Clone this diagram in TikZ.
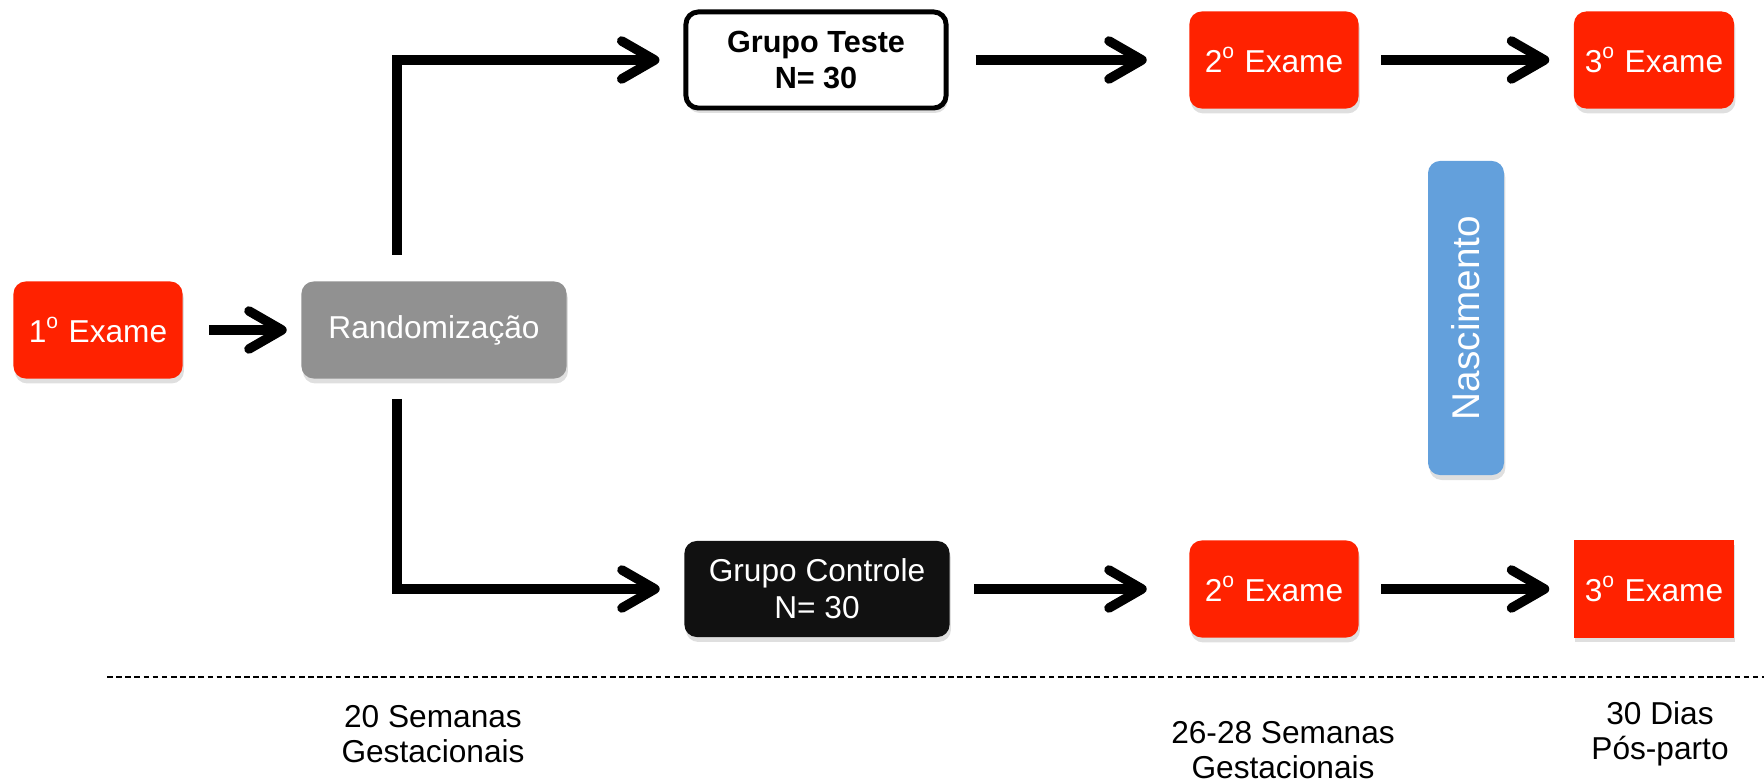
\documentclass[tikz,border=0pt]{standalone}
\usepackage{fontspec}
\setmainfont{Liberation Sans}
\usetikzlibrary{arrows.meta,shadows}

\definecolor{examered}{RGB}{255,34,0}
\definecolor{randgray}{RGB}{145,145,145}
\definecolor{nascblue}{RGB}{99,160,220}
\definecolor{ctrlblack}{RGB}{17,17,17}

\tikzset{
  box/.style={rounded corners=3.5pt, minimum height=0.97cm, inner sep=0pt, align=center,
    font=\fontsize{9}{10.5}\selectfont, text=white,
    drop shadow={opacity=0.25, shadow xshift=0.4pt, shadow yshift=-1.4pt}},
  exame/.style={box, fill=examered, minimum width=1.69cm},
  seta/.style={line width=2.7pt, -{Straight Barb[length=0.33cm, width=0.38cm, round]}},
  rotulo/.style={align=center, font=\fontsize{9}{10}\selectfont}
}

\begin{document}
\begin{tikzpicture}[x=0.01cm, y=-0.01cm]
    \useasboundingbox (0, 0) rectangle (1764, 783);

    \node[exame] (e1) at (98, 330) {1\textsuperscript{o} Exame};
    \node[box, fill=randgray, minimum width=2.65cm] (rand) at (434, 330) {Randomização};

    \node[box, fill=white, draw=black, line width=1.4pt, text=black, minimum width=2.60cm, minimum height=0.96cm,
          font=\fontsize{8.7}{10.5}\selectfont\bfseries] (gt) at (816, 60) {Grupo Teste\\N= 30};
    \node[box, fill=ctrlblack, minimum width=2.65cm, minimum height=0.96cm] (gc) at (817, 589) {Grupo Controle\\N= 30};

    \node[exame] (e2a) at (1274, 60) {2\textsuperscript{o} Exame};
    \node[exame, minimum width=1.60cm] (e3a) at (1654, 60) {3\textsuperscript{o} Exame};
    \node[exame] (e2b) at (1274, 589) {2\textsuperscript{o} Exame};
    \node[exame, minimum width=1.60cm, rounded corners=0pt] (e3b) at (1654, 589) {3\textsuperscript{o} Exame};

    \node[box, fill=nascblue, rotate=90, minimum width=3.14cm, minimum height=0.76cm,
          font=\fontsize{11}{13}\selectfont] (nasc) at (1466, 318) {Nascimento};

    \coordinate (brkup) at (397, 255);
    \coordinate (brkdn) at (397, 399);

    \draw[seta, shorten <=0.26cm, shorten >=0.14cm] (e1) -- (rand);
    \draw[seta, shorten >=0.24cm] (brkup) |- (gt.west);
    \draw[seta, shorten >=0.24cm] (brkdn) |- (gc.west);
    \draw[seta, shorten <=0.27cm, shorten >=0.42cm] (gt) -- (e2a);
    \draw[seta, shorten <=0.22cm, shorten >=0.24cm] (e2a) -- (e3a);
    \draw[seta, shorten <=0.24cm, shorten >=0.42cm] (gc) -- (e2b);
    \draw[seta, shorten <=0.22cm, shorten >=0.24cm] (e2b) -- (e3b);

    \draw[line width=0.8pt, dash pattern=on 1.6pt off 1pt] (107, 677) -- (1764, 677);

    \node[rotulo] (sem20) at (433, 734) {20 Semanas\\Gestacionais};
    \node[rotulo] (sem26) at (1283, 750) {26-28 Semanas\\Gestacionais};
    \node[rotulo] (dias30) at (1660, 734) {30 Dias\\Pós-parto};
\end{tikzpicture}
\end{document}
